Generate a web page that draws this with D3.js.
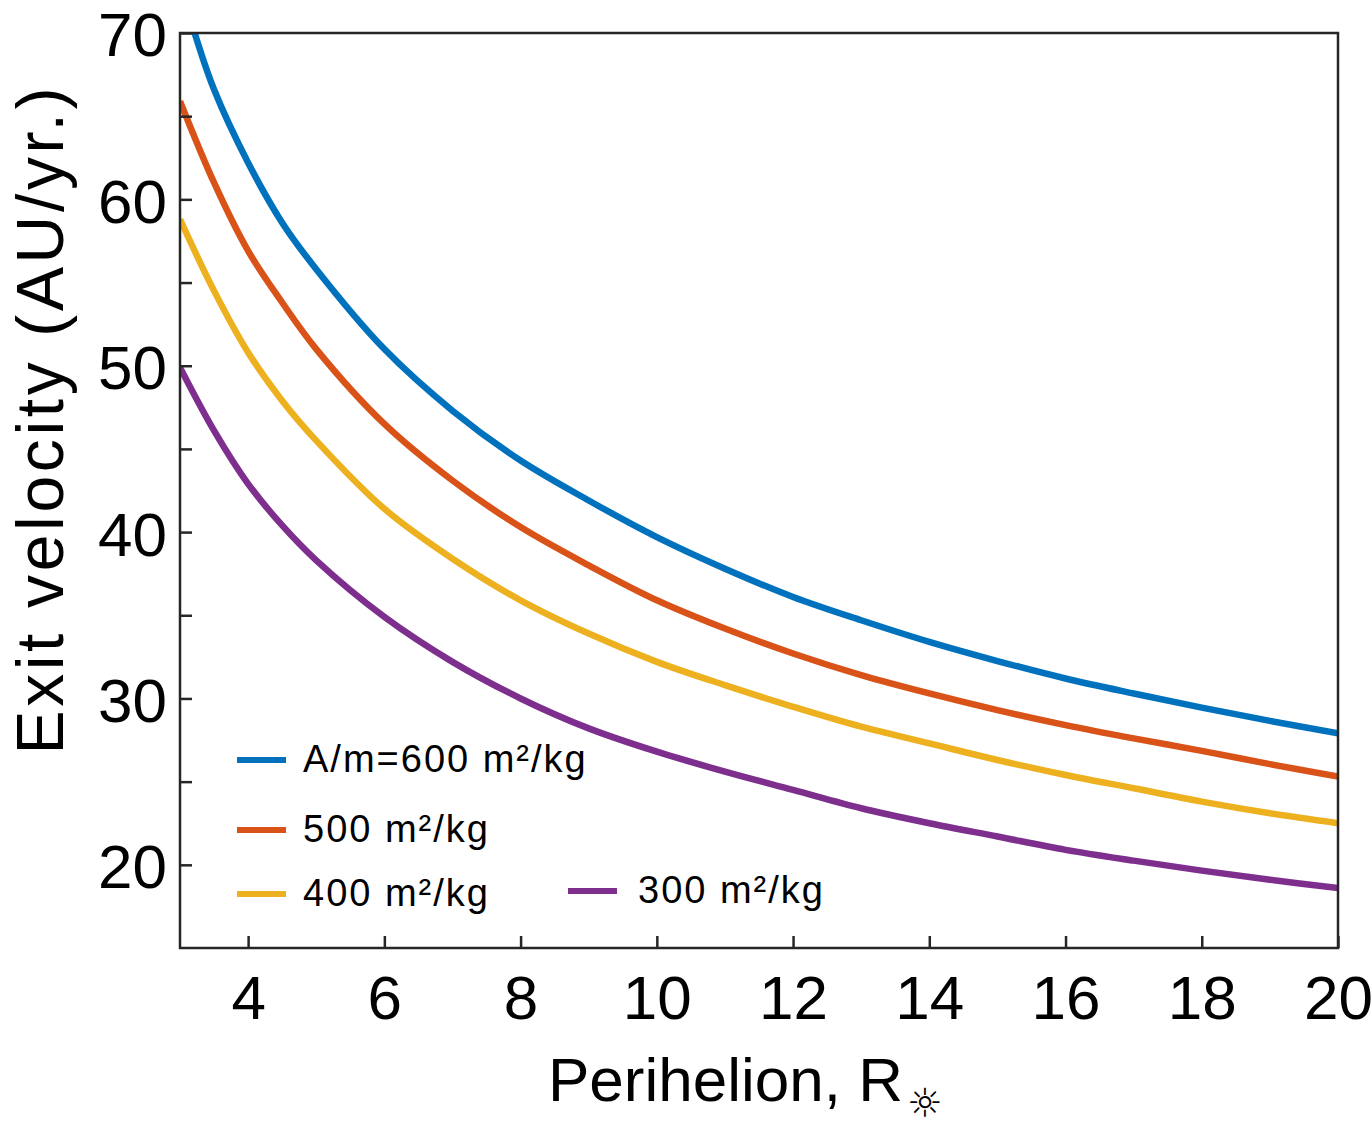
<!DOCTYPE html>
<html>
<head>
<meta charset="utf-8">
<script src="https://cdn.jsdelivr.net/npm/d3@7"></script>
<style>
  body { margin: 0; background: #fff; }
  text { font-family: "Liberation Sans", Arial, sans-serif; fill: #000; }
</style>
</head>
<body>
<div id="chart"></div>
<script>
// perihelion (solar radii)
var perihelion = [3, 3.5, 4, 4.5, 5, 6, 7, 8, 9, 10, 11, 12, 13, 14, 15, 16, 17, 18, 19, 20];
// exit velocity (AU/yr) for each A/m
var v600 = [null, 66.6, 62.2, 58.6, 55.8, 51.0, 47.3, 44.3, 41.9, 39.7, 37.8, 36.1, 34.7, 33.4, 32.25, 31.2, 30.3, 29.45, 28.65, 27.9];
var v500 = [65.9, 61.0, 56.9, 53.8, 51.0, 46.5, 43.1, 40.3, 38.0, 35.9, 34.2, 32.7, 31.4, 30.3, 29.3, 28.4, 27.6, 26.85, 26.05, 25.3];
var v400 = [58.8, 54.5, 50.8, 47.9, 45.5, 41.4, 38.4, 35.9, 33.9, 32.2, 30.8, 29.5, 28.3, 27.3, 26.3, 25.4, 24.6, 23.8, 23.1, 22.5];
var v300 = [49.9, 46.1, 42.9, 40.4, 38.3, 34.9, 32.2, 30.0, 28.2, 26.8, 25.6, 24.5, 23.4, 22.5, 21.7, 20.9, 20.25, 19.65, 19.1, 18.6];
// blue curve enters the frame at the top edge
var v600Start = {x: 3.2, y: 70.2};

var seriesNames = ["A/m=600 m²/kg", "500 m²/kg", "400 m²/kg", "300 m²/kg"];
var seriesColors = ["#0072BD", "#D95319", "#EDB120", "#7E2F8E"];

var xTicks = [4, 6, 8, 10, 12, 14, 16, 18, 20];
var yTicks = [20, 25, 30, 35, 40, 45, 50, 55, 60, 65, 70];

var W = 1372, H = 1129;
var margin = {left: 180, right: 34, top: 33, bottom: 181};

var svg = d3.select("#chart").append("svg")
  .attr("width", W)
  .attr("height", H);

var x = d3.scaleLinear().domain([3, 20]).range([margin.left, W - margin.right]);
var y = d3.scaleLinear().domain([15, 70]).range([H - margin.bottom, margin.top]);

svg.append("defs").append("clipPath")
  .attr("id", "plotclip")
  .append("rect")
  .attr("x", x(3)).attr("y", y(70))
  .attr("width", x(20) - x(3)).attr("height", y(15) - y(70));

var line = d3.line()
  .defined(function(d) { return d.y != null; })
  .x(function(d) { return x(d.x); })
  .y(function(d) { return y(d.y); })
  .curve(d3.curveCatmullRom.alpha(0.5));

function toPoints(vals) {
  return perihelion.map(function(p, i) { return {x: p, y: vals[i]}; })
    .filter(function(d) { return d.y != null; });
}

var allSeries = [
  [v600Start].concat(toPoints(v600)),
  toPoints(v500),
  toPoints(v400),
  toPoints(v300)
];

var plot = svg.append("g").attr("clip-path", "url(#plotclip)");
allSeries.forEach(function(pts, i) {
  plot.append("path")
    .datum(pts)
    .attr("d", line)
    .attr("fill", "none")
    .attr("stroke", seriesColors[i])
    .attr("stroke-width", 6.5)
    .attr("stroke-linejoin", "round");
});

// axes, ticks pointing inward
var xAxis = d3.axisBottom(x)
  .tickValues(xTicks)
  .tickSize(-12)
  .tickPadding(27)
  .tickFormat(d3.format("d"));
var yAxis = d3.axisLeft(y)
  .tickValues(yTicks)
  .tickSize(-12)
  .tickPadding(13)
  .tickFormat(function(d) { return d % 10 == 0 ? d : ""; });

var gx = svg.append("g")
  .attr("transform", "translate(0," + y(15) + ")")
  .call(xAxis);
var gy = svg.append("g")
  .attr("transform", "translate(" + x(3) + ",0)")
  .call(yAxis);

[gx, gy].forEach(function(g) {
  g.select(".domain").remove();
  g.selectAll(".tick line").attr("stroke", "#262626").attr("stroke-width", 2.5);
  g.selectAll(".tick text")
    .attr("font-family", "Liberation Sans, Arial, sans-serif")
    .attr("font-size", 62)
    .attr("fill", "#000");
});
gy.selectAll(".tick text").attr("dy", "0.37em");

// box
svg.append("rect")
  .attr("x", x(3)).attr("y", y(70))
  .attr("width", x(20) - x(3)).attr("height", y(15) - y(70))
  .attr("fill", "none")
  .attr("stroke", "#262626")
  .attr("stroke-width", 2.5);

// axis labels
var xl = svg.append("text")
  .attr("x", 548)
  .attr("y", 1101)
  .attr("font-size", 62);
xl.append("tspan").text("Perihelion, R");
xl.append("tspan")
  .attr("font-family", "DejaVu Sans")
  .attr("font-size", 40)
  .attr("dx", 4)
  .attr("dy", 16)
  .text("☼");

svg.append("text")
  .attr("transform", "translate(63,421) rotate(-90)")
  .attr("text-anchor", "middle")
  .attr("font-size", 66)
  .attr("textLength", 667)
  .attr("lengthAdjust", "spacing")
  .text("Exit velocity (AU/yr.)");

// legend
var legendPos = [
  {lx: 237, ly: 760},
  {lx: 237, ly: 830},
  {lx: 237, ly: 894},
  {lx: 568, ly: 891}
];
seriesNames.forEach(function(name, i) {
  var p = legendPos[i];
  svg.append("line")
    .attr("x1", p.lx).attr("x2", p.lx + 49)
    .attr("y1", p.ly).attr("y2", p.ly)
    .attr("stroke", seriesColors[i])
    .attr("stroke-width", 6);
  svg.append("text")
    .attr("x", p.lx + 66 + (i == 3 ? 4 : 0))
    .attr("y", p.ly + 12)
    .attr("font-size", 38)
    .attr("letter-spacing", 2)
    .text(name);
});
</script>
</body>
</html>
